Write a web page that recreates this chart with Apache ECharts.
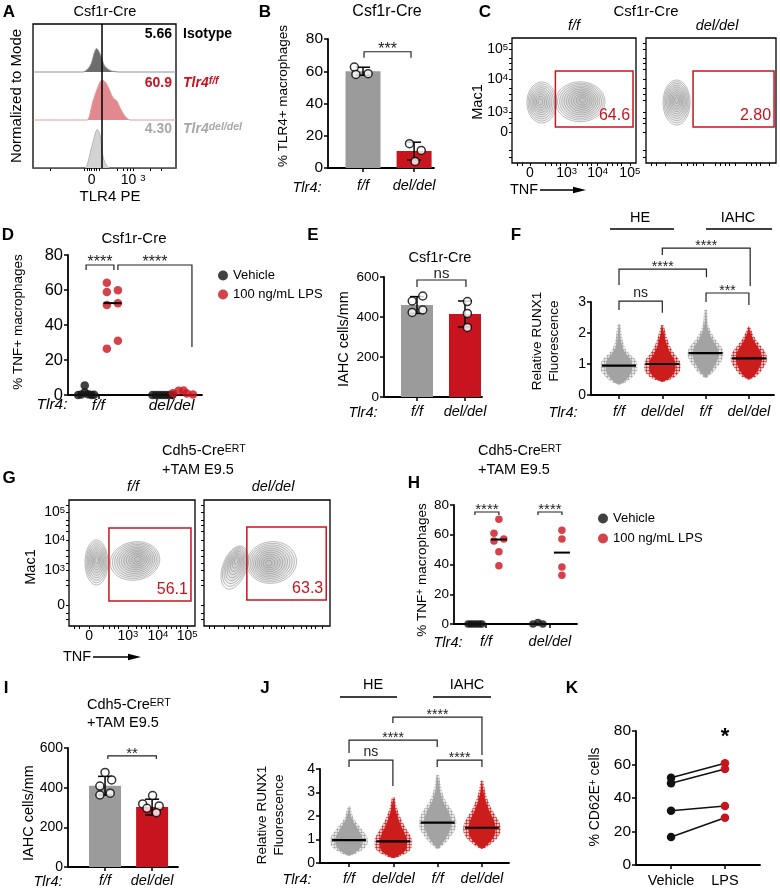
<!DOCTYPE html>
<html><head><meta charset="utf-8">
<script src="https://cdn.jsdelivr.net/npm/echarts@6/dist/echarts.min.js"></script>
<style>html,body{margin:0;padding:0;background:#fff}#c{width:780px;height:892px}</style>
</head><body><div id="c"></div>
<script>
// ---------------- DATA ----------------
// Panel A: histograms [display x (0-100), relative height (0-1)]
const aIsotype = [[0,0],[33,0],[35,0],[40,0.13],[43,0.41],[44.5,0.49],[47,0.37],[50,0.13],[54,0.03],[57,0.01],[60,0],[100,0]];
const aFlox    = [[0,0],[36,0],[38,0],[42,0.4],[47,0.8],[48.7,0.83],[51.5,0.75],[56,0.46],[58.5,0.4],[62,0.19],[65.5,0.04],[68,0],[100,0]];
const aDel     = [[0,0],[34,0],[36.4,0],[41,0.43],[45,0.8],[46.8,0.7],[49,0.23],[51.5,0.05],[54,0],[100,0]];
const aGateX = 48;
const aTickPos = [41,70];
const aTickLab = ['0','10 {s|3}'];
const aMinor = [12,36,38,39.5,41,42.5,44,46,59,63,66,68,70,82,90];

// Panel B
const bCats = ['f/f','del/del'];
const bMeans = [60,10.5];
const bSD = [2.5,5.5];
const bPts = [[0.83,62.6],[0.86,58],[1.1,58.5],[1.91,15.1],[2.14,10.9],[2.02,4.1]];

// Flow plots (display units 0-100 on both axes)
const flowLab = ['0','10{s|3}','10{s|4}','10{s|5}'];
const cXTicks = [14.5,44,69,95], cYTicks = [24.6,40.6,67,91];
const gXTicks = [15.9,46.8,70.6,93.7], gYTicks = [16.7,44.4,68,90.5];
const flowMinorX = [4,8,27,32,36,39,53,57,61,64,77,81,85,88];
const flowMinorY = [5,10,32,36,50,55,60,75,80,84,96];
// contour blobs: [cx, cy, rx, ry, rings, rotationDeg, peakX, peakY]
const cFFBlobs  = [[24,48.4,12,16.4,9,0,22.6,49],[55,49,20,16,11,0,57,50.4]];
const cDelBlobs = [[23.5,48.4,10.4,18,10,0,23.6,50.4]];
const gFFBlobs  = [[21.8,50.4,9.1,17.9,9,0,22,52.4],[52.4,51.6,19.8,15.2,11,-10,54.8,53.2]];
const gDelBlobs = [[24.3,46.4,9.5,17.9,9,20,25.9,52.4],[53.7,50.4,19.8,16.5,11,-8,51,49.8]];
// gates: [x1, y1, x2, y2]
const cFFGate = [[35,28.8,97.6,73.6]],  cFFPct = ['64.6'];
const cDelGate = [[36.2,28.8,98.5,73.6]], cDelPct = ['2.80'];
const gFFGate = [[31.7,19.8,96.8,77.8]], gFFPct = ['56.1'];
const gDelGate = [[34,20.6,97,78.6]],   gDelPct = ['63.3'];

// Panel D
const dTicks = [0.905,3.09];
const dVeh = [[0.3,0],[0.4,0.3],[0.5,5.5],[0.5,1.5],[0.6,0.5],[0.7,0],[0.78,0.2],
              [2.52,0],[2.62,0],[2.72,0],[2.82,0],[2.92,0],[3.02,0],[3.12,0]];
const dLps = [[1.16,64.2],[1.16,58.9],[1.49,59.8],[1.16,51.4],[1.49,52.4],[1.49,31],[1.16,26.5],
              [3.13,1],[3.3,2.4],[3.45,2.6],[3.55,0.8],[3.73,0.3]];
const dMedians = [[1.33,52.5]];

// Panel E
const eMeans = [460,415];
const eSD = [42,65];
const ePts = [[0.9,480],[1.12,505],[0.9,423],[1.12,435],[2.05,477],[2.05,418],[2.05,348]];

// Panel F (swarm profiles: [value, relative half-width])
const fProfiles = [
  [[0.33,0],[0.4,0.3],[0.5,0.55],[0.6,0.75],[0.7,0.9],[0.8,1],[0.9,1],[1.0,1],[1.1,0.95],[1.2,0.8],[1.3,0.6],[1.4,0.42],[1.5,0.3],[1.65,0.2],[1.8,0.13],[2.0,0.08],[2.15,0.05],[2.28,0]],
  [[0.42,0],[0.5,0.4],[0.6,0.7],[0.7,0.88],[0.8,0.98],[0.9,1],[1.0,1],[1.1,0.95],[1.2,0.84],[1.3,0.68],[1.45,0.5],[1.6,0.36],[1.75,0.26],[1.9,0.17],[2.05,0.1],[2.25,0]],
  [[0.55,0],[0.65,0.2],[0.75,0.42],[0.9,0.62],[1.05,0.82],[1.2,0.95],[1.35,1],[1.5,0.92],[1.65,0.72],[1.8,0.5],[1.95,0.33],[2.1,0.2],[2.25,0.1],[2.4,0.05],[2.6,0.03],[2.75,0]],
  [[0.5,0],[0.6,0.35],[0.7,0.55],[0.85,0.75],[1.0,0.92],[1.15,1],[1.3,0.96],[1.45,0.82],[1.6,0.6],[1.75,0.38],[1.9,0.22],[2.05,0.1],[2.2,0]]
];
const fMedians = [0.95,1.0,1.35,1.18];
const swarmCats = ['f/f','del/del','f/f','del/del'];

// Panel H
const hTicks = [1.04,3.12];
const hVeh = [[0.46,0],[0.55,0],[0.64,0],[0.73,0],[0.82,0],[0.91,0],[2.57,0],[2.73,1],[2.89,0]];
const hLps = [[1.46,70.4],[1.3,61],[1.62,57.1],[1.3,55.8],[1.46,48.6],[1.46,39.2],
              [3.51,63],[3.51,57.1],[3.51,38.3],[3.51,32.7]];
const hMedians = [[1.46,56.8],[3.51,48]];

// Panel I
const iMeans = [410,302];
const iSD = [47,40];
const iPts = [[1.0,477],[1.14,439],[0.89,408],[1.11,372],[0.89,363],
              [2.01,360],[1.8,318],[2.15,308],[1.89,296],[2.09,274]];

// Panel J
const jProfiles = [
  [[0.3,0],[0.4,0.35],[0.55,0.7],[0.7,0.92],[0.85,1],[1.0,1],[1.15,0.95],[1.3,0.8],[1.5,0.6],[1.7,0.38],[1.9,0.2],[2.1,0.1],[2.4,0]],
  [[0.2,0],[0.3,0.35],[0.45,0.75],[0.6,0.95],[0.8,1],[1.0,1],[1.2,0.88],[1.4,0.72],[1.6,0.56],[1.8,0.42],[2.0,0.3],[2.2,0.2],[2.4,0.12],[2.6,0.06],[2.8,0]],
  [[0.6,0],[0.8,0.3],[1.0,0.55],[1.2,0.75],[1.4,0.92],[1.6,1],[1.8,1],[2.0,0.92],[2.2,0.78],[2.4,0.6],[2.6,0.42],[2.8,0.3],[3.0,0.2],[3.2,0.13],[3.4,0.08],[3.6,0.04],[3.75,0]],
  [[0.6,0],[0.75,0.35],[0.9,0.6],[1.1,0.85],[1.3,0.98],[1.5,1],[1.7,0.94],[1.9,0.8],[2.1,0.64],[2.3,0.48],[2.5,0.36],[2.7,0.25],[2.9,0.16],[3.1,0.1],[3.3,0.05],[3.5,0]]
];
const jMedians = [0.97,0.92,1.72,1.5];

// Panel K
const kCats = ['Vehicle','LPS'];
const kVeh = [52.1,48.8,32.4,16.7];
const kLps = [60.7,57.3,35.2,28.2];

// Significance brackets: [x1, x2, yTop, yDropLeft, yDropRight]
const bBr = [[1.02,1.94,72.1,68.4,68.4]], bBrLab = ['***'];
const dBr = [[0.54,1.37,74.3,71.4,71.4],[1.49,3.7,74.3,71.4,27.4]], dBrLab = ['****','****'];
const eBr = [[1.0,2.02,585,550,550]], eBrLab = ['ns'];
const fBr = [[1,2,3.03,2.74,2.65],[3.01,4,3.29,3.0,2.9],[1,3.02,4.06,3.55,3.8],[2,4.03,4.74,4.52,3.52]], fBrLab = ['ns','***','****','****'];
const hBr = [[0.68,1.46,75.3,73.3,73.3],[2.73,3.51,75.3,73.3,73.3]], hBrLab = ['****','****'];
const iBr = [[1.06,2.09,560,545,545]], iBrLab = ['**'];
const jBr = [[1,1.99,4.38,4.09,3.28],[2.99,4.0,4.38,4.09,4.09],[1,2.99,5.23,4.68,4.94],[1.99,4.0,6.21,5.96,4.6]], jBrLab = ['ns','****','****','****'];

// ---------------- STYLE ----------------
const FONT = '"Liberation Sans", Arial, Helvetica, sans-serif';
const RED = '#c8141e', GRAY = '#9b9b9b', SW_GRAY = '#a3a3a3', SW_RED = '#cc1d1d';

const grids = [
  {left:33, top:24, width:143, height:144},   //0 A
  {left:328, top:39, width:106, height:129},  //1 B
  {left:512, top:38, width:124, height:125},  //2 C f/f
  {left:646, top:38, width:130, height:125},  //3 C del
  {left:68, top:255, width:134, height:140},  //4 D
  {left:384, top:277, width:98, height:120},  //5 E
  {left:591, top:302, width:183, height:93},  //6 F
  {left:69, top:500, width:126, height:126},  //7 G f/f
  {left:204, top:500, width:126, height:126}, //8 G del
  {left:454, top:505, width:123, height:119}, //9 H
  {left:68, top:748, width:110, height:119},  //10 I
  {left:320, top:769, width:189, height:94},  //11 J
  {left:636, top:731, width:124, height:134}  //12 K
];
const boxed = [0,2,3,7,8];

function nearest(arr, v){let b=0,d=1e9;arr.forEach((t,i)=>{const e=Math.abs(t-v);if(e<d){d=e;b=i;}});return b;}
const AX_RICH = {s:{fontSize:9.5, fontFamily:FONT, color:'#000', verticalAlign:'top'}};

function yVal(gi, max, interval, fs){
  return {type:'value', gridIndex:gi, min:0, max, interval,
    axisLine:{show:true, lineStyle:{color:'#000', width:1.8}},
    axisTick:{show:true, length:4, lineStyle:{color:'#000', width:1.5}},
    axisLabel:{color:'#000', fontSize:fs||14.5, fontFamily:FONT, margin:5},
    splitLine:{show:false}};
}
function xCat(gi, min, max, ticks, labels, margin, italic, fs){
  return {type:'value', gridIndex:gi, min, max,
    axisLine:{show:true, onZero:false, lineStyle:{color:'#000', width:1.8}},
    axisTick:{show:true, customValues:ticks, length:4, lineStyle:{color:'#000', width:1.5}},
    axisLabel:{customValues:ticks, formatter:(v)=>labels[nearest(ticks,v)], color:'#000', fontSize:fs||14.5,
      fontStyle: italic===false?'normal':'italic', fontFamily:FONT, margin},
    splitLine:{show:false}};
}
function flowAxis(gi, dir, ticks, minor, showLab){
  return {type:'value', gridIndex:gi, min:0, max:100,
    axisLine:{show:false}, splitLine:{show:false},
    axisTick:{show:true, customValues:ticks.concat(minor), length:3, lineStyle:{color:'#000', width:1}},
    axisLabel:{show:showLab, customValues:ticks, formatter:(v)=>flowLab[nearest(ticks,v)], color:'#000',
      fontSize:14, fontFamily:FONT, margin:dir==='x'?3:4, rich:AX_RICH}};
}

// dotted fill pattern for the swarms
function dotPattern(color){
  const c=document.createElement('canvas'); c.width=3; c.height=3;
  const g=c.getContext('2d'); g.fillStyle=color; g.beginPath(); g.arc(1.5,1.5,1.2,0,2*Math.PI); g.fill();
  return {type:'pattern', image:c, repeat:'repeat'};
}

// --------- renderers ---------
function contourSeries(gi, blobs){
  return {type:'custom', xAxisIndex:gi, yAxisIndex:gi, clip:true, silent:true, z:2,
    data: blobs, encode:{x:0, y:1},
    renderItem:(params, api)=>{
      const c = api.coord([api.value(0), api.value(1)]);
      const p = api.coord([api.value(6), api.value(7)]);
      const sz = api.size([api.value(2), api.value(3)]);
      const n = api.value(4), rot = api.value(5)*Math.PI/180;
      const ch = [];
      for (let k=n;k>=1;k--){
        const s = Math.pow(k/n, 0.85);
        const ccx = p[0]+(c[0]-p[0])*s, ccy = p[1]+(c[1]-p[1])*s;
        const a = sz[0]*s, b = sz[1]*s, pts=[];
        for (let i=0;i<48;i++){
          const t=i/48*2*Math.PI, x=a*Math.cos(t), y=b*Math.sin(t);
          pts.push([ccx + x*Math.cos(rot) - y*Math.sin(rot), ccy + x*Math.sin(rot) + y*Math.cos(rot)]);
        }
        ch.push({type:'polygon', shape:{points:pts}, style:{fill:'rgba(40,40,40,0.028)', stroke:'#858585', lineWidth:0.55}});
      }
      return {type:'group', children:ch};
    }};
}
function gateSeries(gi, gates, labels){
  return {type:'custom', xAxisIndex:gi, yAxisIndex:gi, clip:false, silent:true, z:4,
    data: gates, encode:{x:[0,2], y:[1,3]},
    renderItem:(params, api)=>{
      const p1 = api.coord([api.value(0), api.value(3)]);
      const p2 = api.coord([api.value(2), api.value(1)]);
      return {type:'group', children:[
        {type:'rect', shape:{x:p1[0], y:p1[1], width:p2[0]-p1[0], height:p2[1]-p1[1]}, style:{fill:'none', stroke:RED, lineWidth:1.5}},
        {type:'text', style:{text:labels[params.dataIndex], x:p2[0]-3, y:p2[1]-3, fill:RED, fontSize:16, fontFamily:FONT,
          align:'right', verticalAlign:'bottom', textAlign:'right', textVerticalAlign:'bottom'}}
      ]};
    }};
}
function bracketSeries(gi, items, labels, size, starGap, nsGap){
  return {type:'custom', xAxisIndex:gi, yAxisIndex:gi, clip:false, silent:true, z:6,
    data: items, encode:{x:[0,1], y:[2,3,4]},
    renderItem:(params, api)=>{
      const x1=api.value(0), x2=api.value(1), yt=api.value(2);
      const q1=api.coord([x1,api.value(3)]), p1=api.coord([x1,yt]), p2=api.coord([x2,yt]), q2=api.coord([x2,api.value(4)]);
      const lab = labels[params.dataIndex];
      const gap = lab==='ns' ? nsGap : starGap;
      return {type:'group', children:[
        {type:'polyline', shape:{points:[q1,p1,p2,q2]}, style:{stroke:'#222', lineWidth:1.2, fill:null}},
        {type:'text', style:{text:lab, x:(p1[0]+p2[0])/2, y:p1[1]-gap, fill:'#222', fontSize:size, fontFamily:FONT,
          align:'center', verticalAlign:'middle', textAlign:'center', textVerticalAlign:'middle'}}
      ]};
    }};
}
function errSeries(gi, xs, means, sds){
  return {type:'custom', xAxisIndex:gi, yAxisIndex:gi, clip:false, silent:true, z:4,
    data: means.map((m,i)=>[xs[i], m, sds[i]]), encode:{x:0, y:1},
    renderItem:(params, api)=>{
      const x=api.value(0), m=api.value(1), s=api.value(2);
      const t=api.coord([x,m+s]), b=api.coord([x,m-s]), w=7;
      const st={stroke:'#000', lineWidth:1.5};
      return {type:'group', children:[
        {type:'line', shape:{x1:t[0],y1:t[1],x2:b[0],y2:b[1]}, style:st},
        {type:'line', shape:{x1:t[0]-w,y1:t[1],x2:t[0]+w,y2:t[1]}, style:st},
        {type:'line', shape:{x1:b[0]-w,y1:b[1],x2:b[0]+w,y2:b[1]}, style:st}
      ]};
    }};
}
function medianSeries(gi, meds, half){
  return {type:'custom', xAxisIndex:gi, yAxisIndex:gi, clip:false, silent:true, z:5,
    data: meds, encode:{x:0, y:1},
    renderItem:(params, api)=>{
      const p=api.coord([api.value(0), api.value(1)]);
      return {type:'line', shape:{x1:p[0]-half, y1:p[1], x2:p[0]+half, y2:p[1]}, style:{stroke:'#000', lineWidth:2}};
    }};
}
function swarmSeries(gi, profiles, medians, colors, maxHalf, medHalf){
  const pats = colors.map(dotPattern);
  return {type:'custom', xAxisIndex:gi, yAxisIndex:gi, clip:false, silent:true, z:3,
    data: medians.map((m,i)=>[i+1, m]), encode:{x:0, y:1},
    renderItem:(params, api)=>{
      const i=params.dataIndex, x=api.value(0), prof=profiles[i];
      const poly=(scale, pad)=>{
        const R=[], L=[];
        prof.forEach(([v,w])=>{const p=api.coord([x,v]); R.push([p[0]+w*maxHalf*scale+pad, p[1]]); L.push([p[0]-w*maxHalf*scale-pad, p[1]]);});
        return R.concat(L.reverse());
      };
      const m = api.coord([x, api.value(1)]);
      return {type:'group', children:[
        {type:'polygon', shape:{points:poly(1,1.2), smooth:0.2}, style:{fill:pats[i]}},
        {type:'polygon', shape:{points:poly(0.78,0), smooth:0.2}, style:{fill:colors[i]}},
        {type:'line', shape:{x1:m[0]-medHalf, y1:m[1], x2:m[0]+medHalf, y2:m[1]}, style:{stroke:'#000', lineWidth:2.2}}
      ]};
    }};
}
const openDot = {type:'scatter', symbol:'circle', symbolSize:8, z:5, silent:true,
  itemStyle:{color:'#fff', borderColor:'#000', borderWidth:1.5}};

// --------- text helpers ---------
function T(text, x, y, o){
  o = o || {};
  const st = {text, x:0, y:0, fill:o.color||'#000', fontSize:o.size||14.5, fontFamily:FONT,
    fontWeight:o.bold?'bold':'normal', fontStyle:o.italic?'italic':'normal',
    align:o.align||'center', verticalAlign:o.va||'middle', textAlign:o.align||'center', textVerticalAlign:o.va||'middle'};
  if (o.lh) st.lineHeight = o.lh;
  if (o.sup) st.rich = {s:{fontSize:o.sup, fontFamily:FONT, fontWeight:st.fontWeight, fontStyle:st.fontStyle, fill:st.fill, verticalAlign:'top'}};
  return {type:'text', x, y, rotation:o.rot||0, silent:true, z:100, style:st};
}
function Ln(x1,y1,x2,y2,w){return {type:'line', silent:true, shape:{x1,y1,x2,y2}, style:{stroke:'#000', lineWidth:w||1.3}};}
function Arrow(x1,x2,y){return [Ln(x1,y,x2-10,y,1.3), {type:'polygon', silent:true, shape:{points:[[x2-13,y-3.2],[x2,y],[x2-13,y+3.2]]}, style:{fill:'#000'}}];}
const R90 = Math.PI/2;

const texts = [
  // A
  T('A',9,12,{bold:true,size:17}), T('Csf1r-Cre',105,12,{size:14.5}),
  T('5.66',172,34,{bold:true,align:'right',size:14}), T('Isotype',183,34,{bold:true,align:'left',size:14}),
  T('60.9',172,83,{bold:true,align:'right',size:14,color:RED}), T('Tlr4{s|f/f}',183,83,{bold:true,italic:true,align:'left',size:14,color:RED,sup:10.5}),
  T('4.30',172,129,{bold:true,align:'right',size:14,color:'#a8a8a8'}), T('Tlr4{s|del/del}',183,129,{bold:true,italic:true,align:'left',size:14,color:'#a8a8a8',sup:10.5}),
  T('Normalized to Mode',17,96,{rot:R90,size:15}), T('TLR4 PE',110,197,{size:15}),
  // B
  T('B',265,12,{bold:true,size:17}), T('Csf1r-Cre',387,12,{size:16}),
  T('% TLR4+ macrophages',283,96,{rot:R90,size:13.5}), T('Tlr4:',307,188,{italic:true}),
  // C
  T('C',485,12,{bold:true,size:17}), T('Csf1r-Cre',646,12,{size:15}),
  T('f/f',574,26,{italic:true}), T('del/del',717,26,{italic:true}),
  T('Mac1',478,102,{rot:R90,size:14.5}), T('TNF',510,190,{align:'left',size:14.5}),
  ...Arrow(540,586,190),
  // D
  T('D',8,235,{bold:true,size:17}), T('Csf1r-Cre',134,239,{size:15}),
  T('% TNF+ macrophages',18,322,{rot:R90,size:13.5}), T('Tlr4:',52,405,{italic:true,size:15.5}),
  // E
  T('E',313,235,{bold:true,size:17}), T('Csf1r-Cre',440,258,{size:14.5}),
  T('IAHC cells/mm',344,339,{rot:R90,size:14.5}), T('Tlr4:',363,413,{italic:true}),
  // F
  T('F',516,235,{bold:true,size:17}), T('HE',640,218), T('IAHC',738,218),
  Ln(610,229,674,229), Ln(706,229,772,229),
  T('Relative RUNX1\nFluorescence',546,341,{rot:R90,size:13.5,lh:17}), T('Tlr4:',563,413,{italic:true}),
  // G
  T('G',9,478,{bold:true,size:17}), T('Cdh5-Cre{s|ERT}',162,451,{align:'left',sup:10.5}), T('+TAM E9.5',162,470,{align:'left'}),
  T('f/f',133,487,{italic:true}), T('del/del',273,487,{italic:true}),
  T('Mac1',31,567,{rot:R90,size:14.5}), T('TNF',63,657,{align:'left',size:14.5}),
  ...Arrow(93,141,657),
  // H
  T('H',414,483,{bold:true,size:17}), T('Cdh5-Cre{s|ERT}',478,451,{align:'left',sup:10.5}), T('+TAM E9.5',478,470,{align:'left'}),
  T('% TNF{s|+} macrophages',422,570,{rot:R90,size:13.5,sup:10}), T('Tlr4:',448,643,{italic:true}),
  // I
  T('I',6,688,{bold:true,size:17}), T('Cdh5-Cre{s|ERT}',87,705,{align:'left',sup:10.5}), T('+TAM E9.5',87,723,{align:'left'}),
  T('IAHC cells/mm',29,813,{rot:R90,size:14.5}), T('Tlr4:',48,882,{italic:true}),
  // J
  T('J',265,688,{bold:true,size:17}), T('HE',373,685), T('IAHC',467,685),
  Ln(340,697,397,697), Ln(433,697,491,697),
  T('Relative RUNX1\nFluorescence',271,815,{rot:R90,size:13.5,lh:17}), T('Tlr4:',297,880,{italic:true}),
  // K
  T('K',572,688,{bold:true,size:17}), T('*',725,737,{size:22,bold:true}),
  T('% CD62E{s|+} cells',595,797,{rot:R90,size:14,sup:10})
];

// --------- axes ---------
const xAxis = [
  {type:'value', gridIndex:0, min:0, max:100, axisLine:{show:false}, splitLine:{show:false},
   axisTick:{show:true, customValues:aMinor, length:3, lineStyle:{color:'#000', width:1}},
   axisLabel:{customValues:aTickPos, formatter:(v)=>aTickLab[nearest(aTickPos,v)], color:'#000', fontSize:14, fontFamily:FONT, margin:5, rich:AX_RICH}},
  xCat(1, 0.314, 2.39, [1,2], bCats, 10),
  flowAxis(2,'x',cXTicks,flowMinorX,true),
  flowAxis(3,'x',cXTicks,flowMinorX,false),
  xCat(4, 0, 4, dTicks, bCats, 3, true, 15.5),
  xCat(5, 0.3125, 2.354, [1,2], bCats, 7),
  xCat(6, 0.353, 4.58, [1,2,3,4], swarmCats, 9),
  flowAxis(7,'x',gXTicks,flowMinorX,true),
  flowAxis(8,'x',gXTicks,flowMinorX,false),
  xCat(9, 0, 4, hTicks, bCats, 10),
  xCat(10, 0.213, 2.55, [1,2], bCats, 6),
  xCat(11, 0.345, 4.61, [1,2,3,4], swarmCats, 8),
  xCat(12, 0.35, 2.65, [1,2], kCats, 8, false)
];
const yAxis = [
  {type:'value', gridIndex:0, min:0, max:3, show:false},
  yVal(1, 80, 20, 15.5),
  flowAxis(2,'y',cYTicks,flowMinorY,true),
  flowAxis(3,'y',cYTicks,flowMinorY,false),
  yVal(4, 80, 20, 16.5),
  yVal(5, 600, 200, 13.5),
  yVal(6, 3, 1, 14),
  flowAxis(7,'y',gYTicks,flowMinorY,true),
  flowAxis(8,'y',gYTicks,flowMinorY,false),
  yVal(9, 80, 20, 13.5),
  yVal(10, 600, 200, 14),
  yVal(11, 4, 1, 14),
  yVal(12, 80, 20, 15.5)
];

// --------- series ---------
const series = [];
// A
series.push({type:'line', xAxisIndex:0, yAxisIndex:0, data:aDel.map(p=>[p[0],p[1]]), smooth:0.3, symbol:'none', silent:true,
  lineStyle:{color:'#b5b5b5', width:1}, areaStyle:{color:'#d3d3d3', origin:0, opacity:1}});
series.push({type:'line', xAxisIndex:0, yAxisIndex:0, data:aFlox.map(p=>[p[0],1+p[1]]), smooth:0.3, symbol:'none', silent:true,
  lineStyle:{color:'#e09a9a', width:1}, areaStyle:{color:'rgba(200,40,50,0.55)', origin:1, opacity:1}});
series.push({type:'line', xAxisIndex:0, yAxisIndex:0, data:aIsotype.map(p=>[p[0],2+p[1]]), smooth:0.3, symbol:'none', silent:true,
  lineStyle:{color:'#8f8f8f', width:1}, areaStyle:{color:'#6d6d6d', origin:2, opacity:1},
  markLine:{silent:true, symbol:'none', label:{show:false}, lineStyle:{color:'#000', width:1.5, type:'solid'}, data:[{xAxis:aGateX}]}});
// B
series.push({type:'bar', xAxisIndex:1, yAxisIndex:1, barWidth:35, silent:true, z:2,
  data:bMeans.map((m,i)=>({value:[i+1,m], itemStyle:{color:i?RED:GRAY}}))});
series.push(errSeries(1,[1,2],bMeans,bSD));
series.push(Object.assign({}, openDot, {xAxisIndex:1, yAxisIndex:1, data:bPts}));
series.push(bracketSeries(1,bBr,bBrLab,16,2,7));
// C
series.push(contourSeries(2,cFFBlobs), gateSeries(2,cFFGate,cFFPct));
series.push(contourSeries(3,cDelBlobs), gateSeries(3,cDelGate,cDelPct));
// D
series.push({type:'scatter', name:'Vehicle', xAxisIndex:4, yAxisIndex:4, data:dVeh, symbolSize:8.5, itemStyle:{color:'#111'}, z:4, clip:false});
series.push({type:'scatter', name:'100 ng/mL LPS', xAxisIndex:4, yAxisIndex:4, data:dLps, symbolSize:8.5, itemStyle:{color:RED}, z:4, clip:false});
series.push(medianSeries(4,dMedians,9));
series.push(bracketSeries(4,dBr,dBrLab,16,2,7));
// E
series.push({type:'bar', xAxisIndex:5, yAxisIndex:5, barWidth:32, silent:true, z:2,
  data:eMeans.map((m,i)=>({value:[i+1,m], itemStyle:{color:i?RED:GRAY}}))});
series.push(errSeries(5,[1,2],eMeans,eSD));
series.push(Object.assign({}, openDot, {xAxisIndex:5, yAxisIndex:5, data:ePts}));
series.push(bracketSeries(5,eBr,eBrLab,15,2,6));
// F
series.push(swarmSeries(6,fProfiles,fMedians,[SW_GRAY,SW_RED,SW_GRAY,SW_RED],17,17));
series.push(bracketSeries(6,fBr,fBrLab,14,2,8));
// G
series.push(contourSeries(7,gFFBlobs), gateSeries(7,gFFGate,gFFPct));
series.push(contourSeries(8,gDelBlobs), gateSeries(8,gDelGate,gDelPct));
// H
series.push({type:'scatter', name:'Vehicle', xAxisIndex:9, yAxisIndex:9, data:hVeh, symbolSize:7.5, itemStyle:{color:'#111'}, z:4, clip:false});
series.push({type:'scatter', name:'100 ng/mL LPS', xAxisIndex:9, yAxisIndex:9, data:hLps, symbolSize:7.5, itemStyle:{color:RED}, z:4, clip:false});
series.push(medianSeries(9,hMedians,8));
series.push(bracketSeries(9,hBr,hBrLab,15,2,7));
// I
series.push({type:'bar', xAxisIndex:10, yAxisIndex:10, barWidth:32, silent:true, z:2,
  data:iMeans.map((m,i)=>({value:[i+1,m], itemStyle:{color:i?RED:GRAY}}))});
series.push(errSeries(10,[1,2],iMeans,iSD));
series.push(Object.assign({}, openDot, {xAxisIndex:10, yAxisIndex:10, data:iPts}));
series.push(bracketSeries(10,iBr,iBrLab,15,2,7));
// J
series.push(swarmSeries(11,jProfiles,jMedians,[SW_GRAY,SW_RED,SW_GRAY,SW_RED],17.5,17));
series.push(bracketSeries(11,jBr,jBrLab,14,2,8));
// K
kVeh.forEach((v,i)=>{
  series.push({type:'line', xAxisIndex:12, yAxisIndex:12, silent:true, symbol:'circle', symbolSize:8.5, z:4,
    lineStyle:{color:'#111', width:1.6},
    data:[{value:[1,v], itemStyle:{color:'#111'}},{value:[2,kLps[i]], itemStyle:{color:RED}}]});
});

const legendBase = {orient:'vertical', icon:'circle', itemWidth:10, itemHeight:10, selectedMode:false,
  data:['Vehicle','100 ng/mL LPS'], textStyle:{fontSize:13, fontFamily:FONT, color:'#000'}};

const option = {
  animation:false, backgroundColor:'#fff', textStyle:{fontFamily:FONT},
  grid: grids.map((g,i)=>Object.assign({show:boxed.includes(i), borderColor:'#000', borderWidth:1.3, backgroundColor:'transparent'}, g)),
  xAxis, yAxis, series,
  legend:[Object.assign({}, legendBase, {left:213, top:264, itemGap:6}),
          Object.assign({}, legendBase, {left:593, top:507, itemGap:7})],
  graphic:{elements:texts}
};
const chart = echarts.init(document.getElementById('c'));
chart.setOption(option);
</script></body></html>
